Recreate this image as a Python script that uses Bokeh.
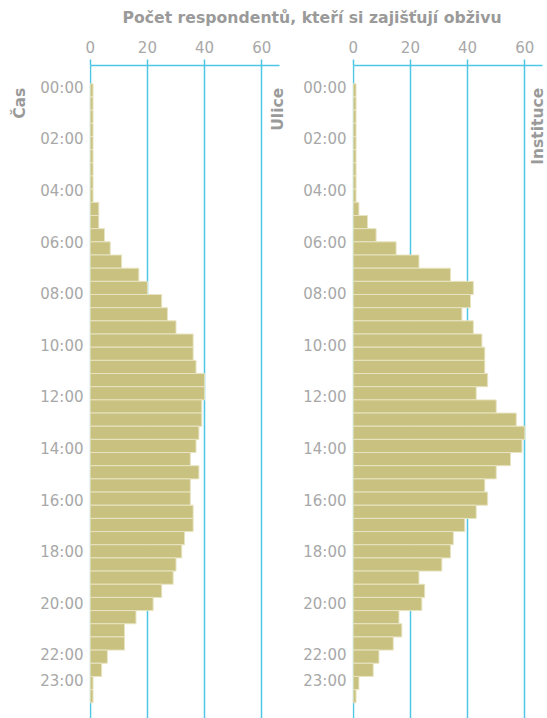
import math
import numpy as np
from bokeh.plotting import figure
from bokeh.models import Range1d, FixedTicker, Label
from bokeh.layouts import column, row
from bokeh.embed import file_html
from bokeh.resources import INLINE

# ---------------- data ----------------
time_bins = ["00:00", "00:30", "01:00", "01:30", "02:00", "02:30", "03:00", "03:30",
             "04:00", "04:30", "05:00", "05:30", "06:00", "06:30", "07:00", "07:30",
             "08:00", "08:30", "09:00", "09:30", "10:00", "10:30", "11:00", "11:30",
             "12:00", "12:30", "13:00", "13:30", "14:00", "14:30", "15:00", "15:30",
             "16:00", "16:30", "17:00", "17:30", "18:00", "18:30", "19:00", "19:30",
             "20:00", "20:30", "21:00", "21:30", "22:00", "22:30", "23:00"]

ulice = [1, 1, 1, 1, 1, 1, 1, 1, 1, 3, 3, 5, 7, 11, 17, 20,
         25, 27, 30, 36, 36, 37, 40, 40, 39, 39, 38, 37, 35, 38, 35, 35,
         36, 36, 33, 32, 30, 29, 25, 22, 16, 12, 12, 6, 4, 1, 1]

instituce = [1, 1, 1, 1, 1, 1, 1, 1, 1, 2, 5, 8, 15, 23, 34, 42,
             41, 38, 42, 45, 46, 46, 47, 43, 50, 57, 60, 59, 55, 50, 46, 47,
             43, 39, 35, 34, 31, 23, 25, 24, 16, 17, 14, 9, 7, 2, 1]

x_ticks = [0, 20, 40, 60]
hour_ticks = [0, 2, 4, 6, 8, 10, 12, 14, 16, 18, 20, 22, 23]
hour_labels = ["00:00", "02:00", "04:00", "06:00", "08:00", "10:00", "12:00",
               "14:00", "16:00", "18:00", "20:00", "22:00", "23:00"]

title_text = "Počet respondentů, kteří si zajišťují obživu"
y_title = "Čas"
panel_names = ["Ulice", "Instituce"]

# ---------------- style ----------------
CYAN = "#4fc6e4"
BAR = "#c8c17f"
BAR_LINE = "#e8e4c3"
TICK_COL = "#a8a8a8"
LABEL_COL = "#9a9a9a"
FONT = "DejaVu Sans"

PANEL_H = 688
TOP = 35
HOUR_RANGE = (24.446, -0.8643)      # bottom, top  (hours)
BAND_RANGE = (48.193, -1.3895)      # bottom, top  (band index)


def side_label(text, x):
    return Label(x=x, y=0, text=text, angle=math.pi / 2,
                 text_align="right", text_baseline="middle",
                 text_font=FONT, text_font_size="15.5px",
                 text_font_style="bold", text_color=LABEL_COL)


def make_panel(values, name, width, border_left, x_end, name_x):
    p = figure(width=width, height=PANEL_H,
               x_range=Range1d(-0.245, x_end),
               y_range=Range1d(*HOUR_RANGE),
               x_axis_location="above",
               toolbar_location=None, output_backend="svg",
               min_border_left=border_left, min_border_right=0,
               min_border_top=TOP, min_border_bottom=0)
    p.extra_y_ranges = {"band": Range1d(*BAND_RANGE)}
    band = np.arange(len(values)) + 0.5
    p.hbar(y=band, height=1, left=0, right=values, y_range_name="band",
           fill_color=BAR, line_color=BAR_LINE, line_width=1)

    xa = p.xaxis[0]
    xa.ticker = FixedTicker(ticks=x_ticks)
    xa.bounds = (0, 66)
    xa.axis_line_color = CYAN
    xa.axis_line_width = 1.5
    xa.major_tick_line_color = CYAN
    xa.major_tick_line_width = 1.5
    xa.major_tick_in = 0
    xa.major_tick_out = 6
    xa.minor_tick_line_color = None
    xa.major_label_standoff = 7
    xa.major_label_text_font = FONT
    xa.major_label_text_font_size = "15px"
    xa.major_label_text_color = TICK_COL

    ya = p.yaxis[0]
    ya.ticker = FixedTicker(ticks=hour_ticks)
    ya.major_label_overrides = {t: l for t, l in zip(hour_ticks, hour_labels)}
    ya.axis_line_color = None
    ya.major_tick_line_color = None
    ya.minor_tick_line_color = None
    ya.major_tick_in = 0
    ya.major_tick_out = 0
    ya.major_label_standoff = 6
    ya.major_label_text_font = FONT
    ya.major_label_text_font_size = "15px"
    ya.major_label_text_color = TICK_COL

    p.xgrid.ticker = FixedTicker(ticks=x_ticks)
    p.xgrid.grid_line_color = CYAN
    p.xgrid.grid_line_width = 1.5
    p.ygrid.visible = False
    p.outline_line_color = None

    p.add_layout(side_label(name, name_x))
    return p


# narrow figure holding the "Čas" axis title
cas = figure(width=35, height=PANEL_H, x_range=Range1d(0, 35),
             y_range=Range1d(*HOUR_RANGE), toolbar_location=None,
             output_backend="svg", x_axis_location=None, y_axis_location=None,
             min_border_left=0, min_border_right=0, min_border_top=TOP,
             min_border_bottom=0)
cas.grid.visible = False
cas.outline_line_color = None
cas.add_layout(side_label(y_title, 19.5))

p1 = make_panel(ulice, panel_names[0], 255, 54, 70.02, 65.6)
p2 = make_panel(instituce, panel_names[1], 257, 62, 67.92, 64.6)

t = figure(width=547, height=30, x_range=Range1d(0, 547), y_range=Range1d(0, 30),
           toolbar_location=None, output_backend="svg",
           x_axis_location=None, y_axis_location=None, min_border=0)
t.grid.visible = False
t.outline_line_color = None
t.add_layout(Label(x=311.5, y=13, text=title_text, text_align="center",
                   text_baseline="middle", text_font=FONT, text_font_size="15.7px",
                   text_font_style="bold", text_color=LABEL_COL))

layout = column(t, row(cas, p1, p2))
open("out.html", "w").write(file_html(layout, INLINE))
